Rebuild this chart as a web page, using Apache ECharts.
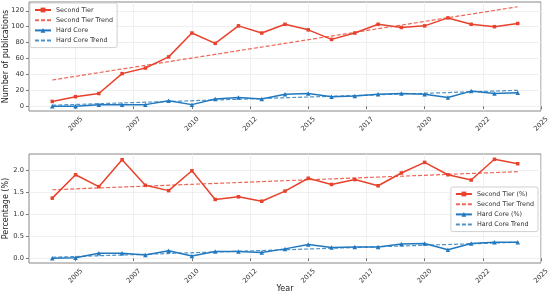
<!DOCTYPE html>
<html>
<head>
<meta charset="utf-8">
<script src="https://cdn.jsdelivr.net/npm/echarts@6/dist/echarts.min.js"></script>
<style>
html, body { margin: 0; padding: 0; background: #fff; }
#chart { width: 550px; height: 294px; }
</style>
</head>
<body>
<div id="chart"></div>
<script>
// values
var years = [2004,2005,2006,2007,2008,2009,2010,2011,2012,2013,2014,2015,2016,2017,2018,2019,2020,2021,2022,2023,2024]
var secondTier = [6,12,16,41,48,62,92,79,101,92,103,96,84,92,103,99,101,111,103,100,104]
var hardCore = [0,0,2,2,2,7,2,9,11,9,15,16,12,13,15,16,15,11,19,16,17]
var secondTierTrend = [33,125]    // at first and last year
var hardCoreTrend = [1.3,20]
var secondPct = [1.36,1.89,1.62,2.23,1.65,1.53,1.98,1.33,1.39,1.29,1.52,1.81,1.67,1.78,1.64,1.93,2.17,1.89,1.77,2.24,2.14]
var hardPct = [0,0.01,0.11,0.11,0.07,0.17,0.05,0.15,0.15,0.13,0.21,0.31,0.24,0.25,0.25,0.32,0.33,0.19,0.33,0.36,0.36]
var secondPctTrend = [1.55,1.96]
var hardPctTrend = [0.02,0.36]
var xTicks = [2005,2007.5,2010,2012.5,2015,2017.5,2020,2022.5,2025]
var countTicks = [0,20,40,60,80,100,120]
var pctTicks = [0,0.5,1,1.5,2]

var RED = '#e8412c', BLUE = '#2178be'
var FONT = 'DejaVu Sans'

function pairs(vals){ return years.map(function(y,i){ return [y, vals[i]] }) }
function trend(ends){ return [[years[0], ends[0]], [years[years.length-1], ends[1]]] }

function xAxis(idx, name){
    return {
        type:'value', gridIndex:idx, min:2003, max:2025,
        name:name, nameLocation:'middle', nameGap:22, nameMoveOverlap:false,
        nameTextStyle:{ fontFamily:FONT, fontSize:8, color:'#222' },
        axisLine:{ show:false },
        axisTick:{ show:true, length:3, lineStyle:{ color:'#777' }, customValues:xTicks },
        axisLabel:{ customValues:xTicks, rotate:45, align:'center', verticalAlign:'middle', margin:13,
            fontFamily:FONT, fontSize:6.7, color:'#333',
            formatter:function(v){ return String(Math.floor(v)) } },
        splitLine:{ show:true, lineStyle:{ color:'#ececec', width:0.8 } }
    }
}
function yAxis(idx, name, min, max, ticks, fmt){
    return {
        type:'value', gridIndex:idx, min:min, max:max,
        name:name, nameLocation:'middle', nameGap:19, nameMoveOverlap:false,
        nameTextStyle:{ fontFamily:FONT, fontSize:8, color:'#222' },
        axisLine:{ show:false },
        axisTick:{ show:true, length:3, lineStyle:{ color:'#777' }, customValues:ticks },
        axisLabel:{ customValues:ticks, margin:5, fontFamily:FONT, fontSize:6.7, color:'#333', formatter:fmt },
        splitLine:{ show:true, lineStyle:{ color:'#ececec', width:0.8 } }
    }
}
function mainLine(name, idx, data, color, sym){
    return { name:name, type:'line', xAxisIndex:idx, yAxisIndex:idx, data:data,
        symbol:sym, symbolSize:sym === 'rect' ? 3.5 : 4.5, showSymbol:true,
        lineStyle:{ color:color, width:1.5 }, itemStyle:{ color:color },
        animation:false, z:3 }
}
function trendLine(name, idx, data, color){
    return { name:name, type:'line', xAxisIndex:idx, yAxisIndex:idx, data:data,
        symbol:'none', lineStyle:{ color:color, width:1.2, type:[4,2], opacity:0.8 },
        itemStyle:{ color:color, opacity:0.8 }, animation:false, z:2 }
}
function legend(names, pos){
    return Object.assign({
        orient:'vertical',
        data:names.map(function(n){
            return n.indexOf('Trend') >= 0 ? { name:n, itemStyle:{ opacity:0 } } : { name:n }
        }),
        itemWidth:16, itemHeight:6, itemGap:4.2,
        padding:[4,4,4,4],
        backgroundColor:'rgba(255,255,255,0.85)', borderColor:'#d0d0d0', borderWidth:1, borderRadius:2,
        textStyle:{ fontFamily:FONT, fontSize:6.4, color:'#333' }
    }, pos)
}

var chart = echarts.init(document.getElementById('chart'))
chart.setOption({
    animation:false,
    backgroundColor:'#fff',
    grid:[
        { left:29, right:9, top:2, height:109, show:true, borderColor:'#888', borderWidth:1, outerBoundsMode:'none' },
        { left:29, right:9, top:154, height:109, show:true, borderColor:'#888', borderWidth:1, outerBoundsMode:'none' }
    ],
    legend:[
        legend(['Second Tier','Second Tier Trend','Hard Core','Hard Core Trend'], { left:30, top:3 }),
        legend(['Second Tier (%)','Second Tier Trend','Hard Core (%)','Hard Core Trend'], { right:12, top:187 })
    ],
    xAxis:[ xAxis(0, ''), xAxis(1, 'Year') ],
    yAxis:[
        yAxis(0, 'Number of publications', -6, 131, countTicks, function(v){ return String(v) }),
        yAxis(1, 'Percentage (%)', -0.11, 2.36, pctTicks, function(v){ return v.toFixed(1) })
    ],
    series:[
        mainLine('Second Tier', 0, pairs(secondTier), RED, 'rect'),
        trendLine('Second Tier Trend', 0, trend(secondTierTrend), RED),
        mainLine('Hard Core', 0, pairs(hardCore), BLUE, 'triangle'),
        trendLine('Hard Core Trend', 0, trend(hardCoreTrend), BLUE),
        mainLine('Second Tier (%)', 1, pairs(secondPct), RED, 'rect'),
        trendLine('Second Tier Trend', 1, trend(secondPctTrend), RED),
        mainLine('Hard Core (%)', 1, pairs(hardPct), BLUE, 'triangle'),
        trendLine('Hard Core Trend', 1, trend(hardPctTrend), BLUE)
    ]
})
</script>
</body>
</html>
